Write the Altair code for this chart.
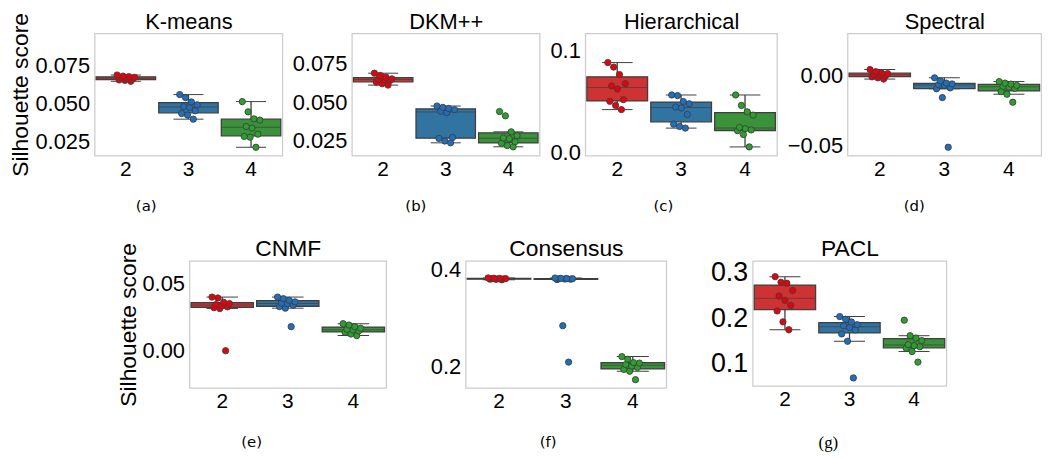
import altair as alt
import pandas as pd

GROUPS = ["2", "3", "4"]

KMEANS_2 = [0.0646, 0.0652, 0.0655, 0.0660, 0.0665, 0.0668, 0.0672, 0.0676, 0.0680, 0.0687]
KMEANS_3 = [0.0398, 0.0425, 0.0435, 0.0453, 0.0474, 0.0480, 0.0492, 0.0511, 0.0539, 0.0559]
KMEANS_4 = [0.0214, 0.0280, 0.0285, 0.0300, 0.0340, 0.0350, 0.0392, 0.0400, 0.0446, 0.0513]

DKM_2 = [0.0611, 0.0620, 0.0630, 0.0641, 0.0646, 0.0650, 0.0652, 0.0663, 0.0674, 0.0689]
DKM_3 = [0.0233, 0.0245, 0.0262, 0.0268, 0.0430, 0.0440, 0.0450, 0.0458, 0.0465, 0.0474]
DKM_4 = [0.0207, 0.0215, 0.0230, 0.0240, 0.0260, 0.0265, 0.0280, 0.0305, 0.0410, 0.0438]

HIER_2 = [0.0419, 0.0460, 0.0500, 0.0517, 0.0620, 0.0650, 0.0673, 0.0762, 0.0835, 0.0879]
HIER_3 = [0.0238, 0.0254, 0.0276, 0.0371, 0.0435, 0.0444, 0.0476, 0.0498, 0.0556, 0.0562]
HIER_4 = [0.0054, 0.0175, 0.0213, 0.0220, 0.0232, 0.0244, 0.0365, 0.0397, 0.0460, 0.0562]

SPEC_2 = [-0.0023, -0.0014, -0.0007, 0.0000, 0.0005, 0.0009, 0.0016, 0.0020, 0.0030, 0.0045]
SPEC_3 = [-0.0509, -0.0155, -0.0092, -0.0086, -0.0068, -0.0062, -0.0058, -0.0052, -0.0036, -0.0014]
SPEC_4 = [-0.0188, -0.0131, -0.0113, -0.0090, -0.0081, -0.0075, -0.0068, -0.0059, -0.0052, -0.0041]

CNMF_2 = [0.0000, 0.0315, 0.0322, 0.0328, 0.0338, 0.0345, 0.0352, 0.0362, 0.0394, 0.0401]
CNMF_3 = [0.0180, 0.0318, 0.0330, 0.0340, 0.0350, 0.0355, 0.0365, 0.0377, 0.0389, 0.0401]
CNMF_4 = [0.0113, 0.0125, 0.0138, 0.0148, 0.0155, 0.0160, 0.0168, 0.0180, 0.0192, 0.0202]

CONS_2 = [0.3790, 0.3800, 0.3803, 0.3808, 0.3810, 0.3812, 0.3815, 0.3818, 0.3822, 0.3828]
CONS_3 = [0.2100, 0.2847, 0.3795, 0.3802, 0.3806, 0.3810, 0.3813, 0.3817, 0.3820, 0.3826]
CONS_4 = [0.1740, 0.1913, 0.1950, 0.1990, 0.2020, 0.2050, 0.2080, 0.2090, 0.2160, 0.2213]

PACL_2 = [0.1749, 0.1924, 0.2164, 0.2287, 0.2396, 0.2491, 0.2615, 0.2775, 0.2796, 0.2920]
PACL_3 = [0.0687, 0.1495, 0.1658, 0.1745, 0.1800, 0.1836, 0.1860, 0.1920, 0.1980, 0.2040]
PACL_4 = [0.1036, 0.1269, 0.1342, 0.1375, 0.1400, 0.1422, 0.1510, 0.1567, 0.1618, 0.1960]

BOX_COLORS = ["#cf3232", "#3274a1", "#3a923a"]
PT_COLORS = ["#e8000b", "#1f6fc0", "#2ca02c"]
EDGE = "#3f3f3f"
FONT = "Liberation Sans"


def make_df(g2, g3, g4):
    rows = []
    for g, vals in zip(GROUPS, (g2, g3, g4)):
        for v in vals:
            rows.append({"k": g, "v": v})
    return pd.DataFrame(rows)


def panel(name, cap, vals, domain, ticks, fmt, width, height, ylab_fs=22,
          ytitle=None, title_fs=22, cap_font="DejaVu Sans", cap_fs=15, cap_off=20):
    df = make_df(*vals)
    band = width / 3.0
    xs = alt.Scale(domain=GROUPS, paddingInner=0, paddingOuter=0)
    ys = alt.Scale(domain=domain, nice=False, zero=False)
    yax = alt.Axis(
        title=ytitle if ytitle else None,
        values=ticks, format=fmt, labelFontSize=ylab_fs, labelPadding=5,
        ticks=False, domain=False, grid=False, labelColor="black",
        titleColor="black", titleFontSize=23, titleFontWeight="normal",
        titlePadding=2, labelFont=FONT, titleFont=FONT,
    )
    box = alt.Chart(df).mark_boxplot(
        extent=1.5, outliers=False, size=band * 0.95,
        box={"stroke": EDGE, "strokeWidth": 1.3},
        median={"color": EDGE, "strokeWidth": 1.3},
        rule={"color": EDGE, "strokeWidth": 1.3},
        ticks={"color": EDGE, "size": band * 0.48, "strokeWidth": 1.3},
    ).encode(
        x=alt.X("k:N", scale=xs, sort=GROUPS, axis=alt.Axis(
            title=None, labelAngle=0, labelFontSize=21, labelPadding=3,
            ticks=False, domain=False, labelColor="black", orient="bottom",
            labelFont=FONT)),
        y=alt.Y("v:Q", scale=ys, axis=yax),
        color=alt.Color("k:N", scale=alt.Scale(domain=GROUPS, range=BOX_COLORS), legend=None),
    )
    pts = alt.Chart(df).transform_window(
        idx="row_number()", groupby=["k"]
    ).transform_calculate(
        jit="(((datum.idx * 7) % 10) / 9 - 0.5) * 0.28"
    ).mark_circle(size=40, opacity=1, stroke=EDGE, strokeWidth=0.9).encode(
        x=alt.X("k:N", scale=xs, sort=GROUPS, axis=alt.Axis(
            orient="top", title=name, labels=False, ticks=False, domain=False,
            titleFontSize=title_fs, titleFontWeight="normal", titlePadding=0,
            titleColor="black", titleFont=FONT)),
        xOffset=alt.XOffset("jit:Q", scale=alt.Scale(domain=[-0.5, 0.5])),
        y=alt.Y("v:Q", scale=ys, axis=yax),
        fill=alt.Fill("k:N", scale=alt.Scale(domain=GROUPS, range=PT_COLORS), legend=None),
    )
    return alt.layer(box, pts).resolve_axis(x="independent").properties(
        width=width, height=height,
        title=alt.TitleParams(cap, orient="bottom", frame="bounds", anchor="middle",
                              font=cap_font, fontSize=cap_fs, fontWeight="normal",
                              offset=cap_off, color="black"),
    )


p1 = panel("K-means", "(a)", (KMEANS_2, KMEANS_3, KMEANS_4), [0.016, 0.096],
           [0.025, 0.05, 0.075], ".3f", 189, 123, ytitle="Silhouette score")
p2 = panel("DKM++", "(b)", (DKM_2, DKM_3, DKM_4), [0.015, 0.095],
           [0.025, 0.05, 0.075], ".3f", 189, 123)
p3 = panel("Hierarchical", "(c)", (HIER_2, HIER_3, HIER_4), [-0.003, 0.1165],
           [0.0, 0.1], ".1f", 193, 123)
p4 = panel("Spectral", "(d)", (SPEC_2, SPEC_3, SPEC_4), [-0.0568, 0.0303],
           [-0.05, 0.0], ".2f", 195, 123)

p5 = panel("CNMF", "(e)", (CNMF_2, CNMF_3, CNMF_4), [-0.0278, 0.0672],
           [0.0, 0.05], ".2f", 198, 128, ytitle="Silhouette score", title_fs=23, cap_off=23)
p6 = panel("Consensus", "(f)", (CONS_2, CONS_3, CONS_4), [0.157, 0.418],
           [0.2, 0.4], ".1f", 202, 128, title_fs=23, cap_off=23)
p7 = panel("PACL", "(g)", (PACL_2, PACL_3, PACL_4), [0.051, 0.327],
           [0.1, 0.2, 0.3], ".1f", 195, 126, ylab_fs=27, title_fs=23,
           cap_font="Liberation Serif", cap_fs=17, cap_off=25)

row1 = alt.hconcat(p1, p2, p3, p4, spacing=8).resolve_scale(x="independent", y="independent")
row2 = alt.hconcat(p5, p6, p7, spacing=42).resolve_scale(x="independent", y="independent")

chart = alt.vconcat(row1, row2, spacing=22, center=True).resolve_scale(
    x="independent", y="independent"
).properties(
    padding={"left": 1, "top": 0, "right": 0, "bottom": 0}, background="white"
).configure(font=FONT).configure_view(
    stroke="#cccccc", strokeWidth=1.25
)

chart.save("out.html", embed_options={"renderer": "svg", "actions": False})
